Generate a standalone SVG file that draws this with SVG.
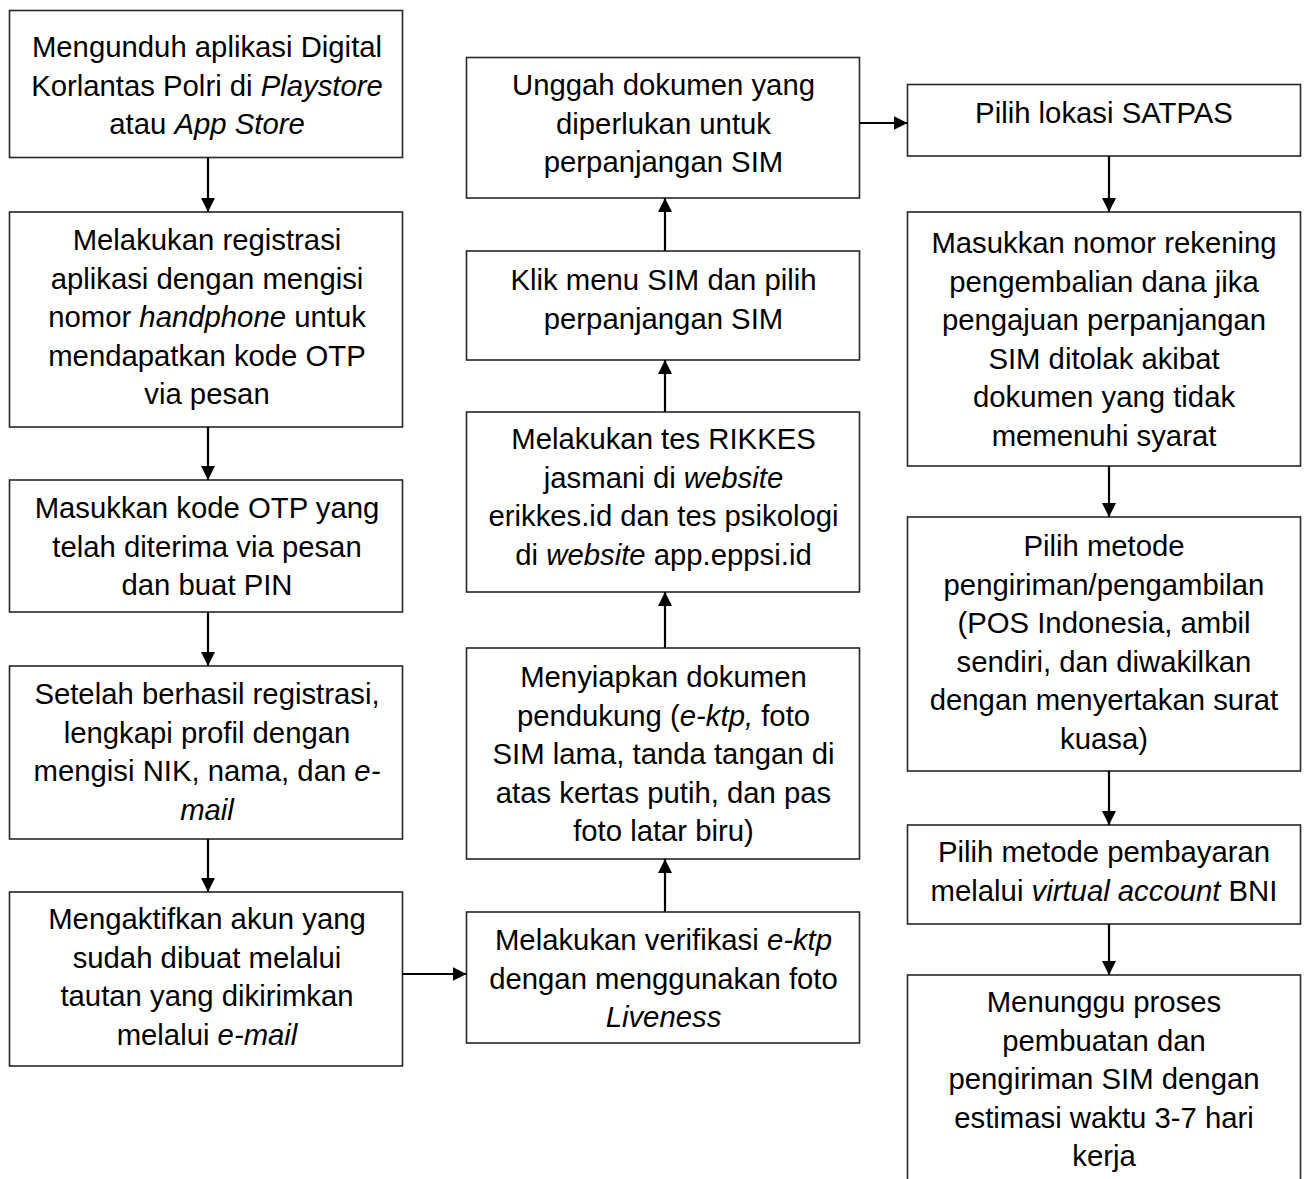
<svg xmlns="http://www.w3.org/2000/svg" width="1308" height="1179" viewBox="0 0 1308 1179">
<defs>
<style>
.box{fill:#fff;stroke:#262626;stroke-width:1.6}
.t{font-family:"Liberation Sans",Arial,sans-serif;font-size:29.3px;fill:#000;text-anchor:middle}
.i{font-style:italic}
.c{stroke:#000;stroke-width:2.2;fill:none}
</style>
<marker id="ah" markerWidth="14" markerHeight="14" refX="14" refY="7" orient="auto" markerUnits="userSpaceOnUse">
<path d="M0,0 L14,7 L0,14 Z" fill="#000"/>
</marker>
</defs>
<rect width="1308" height="1179" fill="#fff"/>

<g id="n1"><rect class="box" x="9.5" y="10.5" width="393" height="147"/>
<text class="t" x="207" y="57">Mengunduh aplikasi Digital</text>
<text class="t" x="207" y="95.6">Korlantas Polri di <tspan class="i">Playstore</tspan></text>
<text class="t" x="207" y="134">atau <tspan class="i">App Store</tspan></text></g>

<g id="n2"><rect class="box" x="9.5" y="212" width="393" height="215"/>
<text class="t" x="207" y="250">Melakukan registrasi</text>
<text class="t" x="207" y="288.6">aplikasi dengan mengisi</text>
<text class="t" x="207" y="327.2">nomor <tspan class="i">handphone</tspan> untuk</text>
<text class="t" x="207" y="365.8">mendapatkan kode OTP</text>
<text class="t" x="207" y="404.4">via pesan</text></g>

<g id="n3"><rect class="box" x="9.5" y="480" width="393" height="132"/>
<text class="t" x="207" y="518">Masukkan kode OTP yang</text>
<text class="t" x="207" y="556.6">telah diterima via pesan</text>
<text class="t" x="207" y="595.2">dan buat PIN</text></g>

<g id="n4"><rect class="box" x="9.5" y="666" width="393" height="173"/>
<text class="t" x="207" y="704">Setelah berhasil registrasi,</text>
<text class="t" x="207" y="742.6">lengkapi profil dengan</text>
<text class="t" x="207" y="781.2">mengisi NIK, nama, dan <tspan class="i">e-</tspan></text>
<text class="t i" x="207" y="819.8">mail</text></g>

<g id="n5"><rect class="box" x="9.5" y="892" width="393" height="174"/>
<text class="t" x="207" y="929">Mengaktifkan akun yang</text>
<text class="t" x="207" y="967.6">sudah dibuat melalui</text>
<text class="t" x="207" y="1006.2">tautan yang dikirimkan</text>
<text class="t" x="207" y="1044.8">melalui <tspan class="i">e-mail</tspan></text></g>

<g id="n6"><rect class="box" x="466.5" y="57.5" width="393" height="140.5"/>
<text class="t" x="663.5" y="95">Unggah dokumen yang</text>
<text class="t" x="663.5" y="133.6">diperlukan untuk</text>
<text class="t" x="663.5" y="172.2">perpanjangan SIM</text></g>

<g id="n7"><rect class="box" x="466.5" y="251" width="393" height="109"/>
<text class="t" x="663.5" y="290">Klik menu SIM dan pilih</text>
<text class="t" x="663.5" y="328.6">perpanjangan SIM</text></g>

<g id="n8"><rect class="box" x="466.5" y="412" width="393" height="180"/>
<text class="t" x="663.5" y="449">Melakukan tes RIKKES</text>
<text class="t" x="663.5" y="487.6">jasmani di <tspan class="i">website</tspan></text>
<text class="t" x="663.5" y="526.2">erikkes.id dan tes psikologi</text>
<text class="t" x="663.5" y="564.8">di <tspan class="i">website</tspan> app.eppsi.id</text></g>

<g id="n9"><rect class="box" x="466.5" y="648" width="393" height="211"/>
<text class="t" x="663.5" y="687">Menyiapkan dokumen</text>
<text class="t" x="663.5" y="725.6">pendukung (<tspan class="i">e-ktp,</tspan> foto</text>
<text class="t" x="663.5" y="764.2">SIM lama, tanda tangan di</text>
<text class="t" x="663.5" y="802.8">atas kertas putih, dan pas</text>
<text class="t" x="663.5" y="841.4">foto latar biru)</text></g>

<g id="n10"><rect class="box" x="466.5" y="912" width="393" height="131"/>
<text class="t" x="663.5" y="950">Melakukan verifikasi <tspan class="i">e-ktp</tspan></text>
<text class="t" x="663.5" y="988.6">dengan menggunakan foto</text>
<text class="t i" x="663.5" y="1027.2">Liveness</text></g>

<g id="n11"><rect class="box" x="907.5" y="84.5" width="393" height="71.5"/>
<text class="t" x="1104" y="123">Pilih lokasi SATPAS</text></g>

<g id="n12"><rect class="box" x="907.5" y="212" width="393" height="254"/>
<text class="t" x="1104" y="253">Masukkan nomor rekening</text>
<text class="t" x="1104" y="291.6">pengembalian dana jika</text>
<text class="t" x="1104" y="330.2">pengajuan perpanjangan</text>
<text class="t" x="1104" y="368.8">SIM ditolak akibat</text>
<text class="t" x="1104" y="407.4">dokumen yang tidak</text>
<text class="t" x="1104" y="446">memenuhi syarat</text></g>

<g id="n13"><rect class="box" x="907.5" y="517" width="393" height="254"/>
<text class="t" x="1104" y="556">Pilih metode</text>
<text class="t" x="1104" y="594.6">pengiriman/pengambilan</text>
<text class="t" x="1104" y="633.2">(POS Indonesia, ambil</text>
<text class="t" x="1104" y="671.8">sendiri, dan diwakilkan</text>
<text class="t" x="1104" y="710.4">dengan menyertakan surat</text>
<text class="t" x="1104" y="749">kuasa)</text></g>

<g id="n14"><rect class="box" x="907.5" y="825" width="393" height="99"/>
<text class="t" x="1104" y="862">Pilih metode pembayaran</text>
<text class="t" x="1104" y="901">melalui  <tspan class="i">virtual account</tspan> BNI</text></g>

<g id="n15"><rect class="box" x="907.5" y="975" width="393" height="215"/>
<text class="t" x="1104" y="1012">Menunggu proses</text>
<text class="t" x="1104" y="1050.6">pembuatan dan</text>
<text class="t" x="1104" y="1089.2">pengiriman SIM dengan</text>
<text class="t" x="1104" y="1127.8">estimasi waktu 3-7 hari</text>
<text class="t" x="1104" y="1166.4">kerja</text></g>

<g id="connectors">
<line class="c" x1="208" y1="158" x2="208" y2="212" marker-end="url(#ah)"/>
<line class="c" x1="208" y1="427" x2="208" y2="480" marker-end="url(#ah)"/>
<line class="c" x1="208" y1="612" x2="208" y2="666" marker-end="url(#ah)"/>
<line class="c" x1="208" y1="839" x2="208" y2="892" marker-end="url(#ah)"/>
<line class="c" x1="402" y1="974" x2="466.5" y2="974" marker-end="url(#ah)"/>
<line class="c" x1="665" y1="912" x2="665" y2="859" marker-end="url(#ah)"/>
<line class="c" x1="665" y1="648" x2="665" y2="592" marker-end="url(#ah)"/>
<line class="c" x1="665" y1="412" x2="665" y2="360" marker-end="url(#ah)"/>
<line class="c" x1="665" y1="251" x2="665" y2="198" marker-end="url(#ah)"/>
<line class="c" x1="860" y1="123" x2="907.5" y2="123" marker-end="url(#ah)"/>
<line class="c" x1="1109" y1="156" x2="1109" y2="212" marker-end="url(#ah)"/>
<line class="c" x1="1109" y1="466" x2="1109" y2="517" marker-end="url(#ah)"/>
<line class="c" x1="1109" y1="771" x2="1109" y2="825" marker-end="url(#ah)"/>
<line class="c" x1="1109" y1="924" x2="1109" y2="975" marker-end="url(#ah)"/>
</g>
</svg>
